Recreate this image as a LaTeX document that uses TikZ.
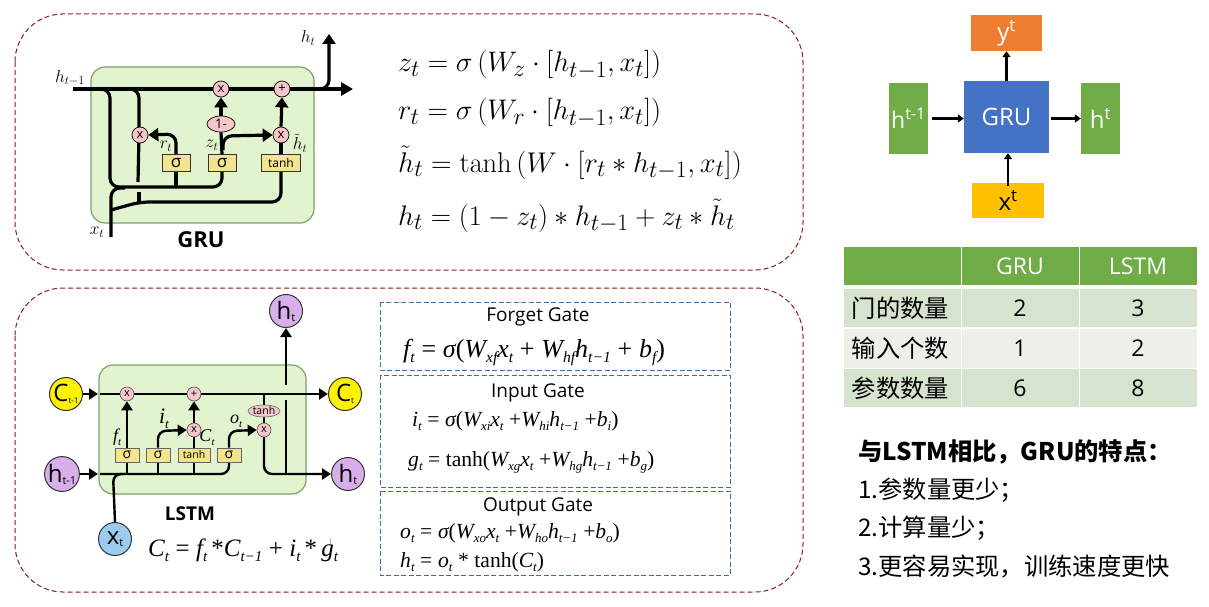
\documentclass[tikz,border=0pt]{standalone}
\usepackage[no-math]{fontspec}
\usepackage{amsmath}
\setmainfont{Open Sans}
\newfontfamily\cjk{Noto Sans CJK SC}
\newfontfamily\tms{Liberation Serif}
\usetikzlibrary{arrows.meta,calc,shapes.geometric}
\definecolor{dred}{HTML}{8E1B1F}
\definecolor{dblue}{HTML}{3F6CA8}
\definecolor{pinkc}{HTML}{F7C6CB}
\definecolor{boxy}{HTML}{F3E48F}
\definecolor{cellbg}{HTML}{E2F4CF}
\definecolor{cellln}{HTML}{7F9F6A}
\definecolor{purp}{HTML}{D8AEEB}
\definecolor{blu}{HTML}{9CCBEE}
\definecolor{ygreen}{HTML}{70AD47}
\definecolor{yorange}{HTML}{ED7D31}
\definecolor{yblue}{HTML}{4472C4}
\definecolor{yyellow}{HTML}{FFC000}
\definecolor{rowa}{HTML}{D6E3CE}
\definecolor{rowb}{HTML}{EBF0E8}
\newcommand{\fs}[1]{\fontsize{#1}{#1}\selectfont}
\newcommand{\V}[1]{{\tms\itshape #1}}
\newcommand{\U}[1]{{\tms #1}}
\newcommand{\SB}[1]{\raisebox{-0.22em}{\scalebox{.6}{\tms\itshape #1}}}
\tikzset{
 x=1pt,y=-1pt,
 panel/.style={draw=dred,line width=1pt,dash pattern=on 5pt off 3pt,rounded corners=48pt},
 gatebox/.style={draw=dblue,line width=1pt,dash pattern=on 5pt off 2.5pt},
 cell/.style={draw=cellln,line width=1.2pt,fill=cellbg,rounded corners=14pt},
 gl/.style={line width=3.2pt,rounded corners=9pt},
 ga/.style={line width=3.2pt,rounded corners=9pt,-{Triangle[length=10pt,width=13pt]}},
 ll/.style={line width=2.4pt,rounded corners=8pt},
 la/.style={line width=2.4pt,rounded corners=8pt,-{Triangle[length=9pt,width=11pt]}},
 op/.style={circle,draw=black,line width=.7pt,fill=pinkc,minimum size=16pt,inner sep=0pt,font=\fs{13}},
 ops/.style={circle,draw=black!70,line width=.6pt,fill=pinkc,minimum size=14pt,inner sep=0pt,font=\fs{11}},
 gbox/.style={draw=black!80,line width=.7pt,fill=boxy,minimum height=17pt,inner sep=0pt,font=\fs{12}},
 lbox/.style={draw=black!60,line width=.7pt,fill=boxy,minimum height=14pt,inner sep=0pt,font=\fs{10.5}},
 state/.style={circle,draw=black!80,line width=1pt,minimum size=33pt,inner sep=0pt,font=\fs{24}},
 mlabel/.style={inner sep=0pt,font=\fs{17}},
 eq/.style={anchor=base west,inner sep=0pt,font=\fs{24.88}},
 teq/.style={anchor=base west,inner sep=0pt,font=\fs{21.6}},
 gtitle/.style={inner sep=0pt,font=\fs{19}},
 solid/.style={draw=none,inner sep=0pt,text=white,font=\fs{24}},
 arr/.style={line width=2.2pt,-{Triangle[length=6pt,width=8pt]}},
 tcell/.style={minimum width=118pt,inner sep=0pt,draw=white,line width=1pt,font=\fs{23}},
 ctext/.style={anchor=base west,inner sep=0pt,font=\cjk\fs{24.3}},
}
\begin{document}
\begin{tikzpicture}
\useasboundingbox (0,0) rectangle (1209,607);
\fill[white] (0,0) rectangle (1209,607);
% panels
\draw[panel] (15,14) rectangle (803,270);
\draw[panel] (15,288) rectangle (803,592);
% GRU cell
\draw[cell] (91,67) rectangle (314,223);
\coordinate (gin) at (73,89);
\coordinate (gout) at (353,89);
\coordinate (gup) at (329,34);
\coordinate (gxin) at (111,237);
\draw[gl] (100,89) -- (110,89) -- (110,187) -- (222,187) -- (222,163);
\draw[gl] (176,187) -- (176,163);
\draw[gl] (126,89) -- (139,89) -- (139,135);
\draw[gl] (139,135) -- (138,182);
\draw[gl] (139,192) -- (139,202);
\draw[gl] (gxin) -- (111,188) -- (125,188);
\draw[gl] (111,210) -- (140,202) -- (281,202) -- (281,163);
\draw[ga] (312,89) -- (329,89) -- (gup);
\draw[line width=3.2pt,-{Triangle[length=12pt,width=13pt]}] (gin) -- (gout);
\node[op] (gx1) at (221,89) {x};
\node[op] (gp) at (282,89) {+};
\node[op] (gx2) at (140,135) {x};
\node[op] (gx3) at (281,135) {x};
\node[draw=black,line width=.7pt,fill=pinkc,ellipse,minimum width=28pt,minimum height=16pt,inner sep=0pt,font=\fs{13}] (gn) at (221,124) {1-};
\node[gbox,minimum width=28pt] (gs1) at (176,163) {\fs{17}σ};
\node[gbox,minimum width=28pt] (gs2) at (222,163) {\fs{17}σ};
\node[gbox,minimum width=39pt] (gt) at (281,163) {tanh};
\draw[gl] (gs2.north) -- (gn.south);
\draw[ga] (gn.north) -- (gx1.south);
\draw[ga] (223,150) -- (223,136) -- (gx3.west);
\draw[gl] (gt.north) -- (gx3.south);
\draw[ga] (gx3.north) -- (gp.south);
\draw[ga] (gs1.north) -- (176,134) -- (gx2.east);
\node[mlabel] at (70,78) {$h_{t-1}$};
\node[mlabel] at (308,38) {$h_t$};
\node[mlabel] at (166,146) {$r_t$};
\node[mlabel] at (212,145) {$z_t$};
\node[mlabel] at (300,143) {$\tilde h_t$};
\node[mlabel] at (97,232) {$x_t$};
\node[inner sep=0pt,font=\bfseries\fs{22}] at (201,240) {GRU};
% GRU equations
\node[eq] at (398,72) {\scalebox{1.135}{$z_t=\sigma\left(W_z\cdot[h_{t-1},x_t]\right)$}};
\node[eq] at (398,120) {\scalebox{1.14}{$r_t=\sigma\left(W_r\cdot[h_{t-1},x_t]\right)$}};
\node[eq] at (398,172) {\scalebox{1.145}{$\tilde h_t=\tanh\left(W\cdot[r_t*h_{t-1},x_t]\right)$}};
\node[eq] at (398,225) {\scalebox{1.135}{$h_t=(1-z_t)*h_{t-1}+z_t*\tilde h_t$}};
% LSTM cell
\draw[cell] (99,365) rectangle (306,494);
\node[state,fill=yellow] (cin) at (66,394) {C\raisebox{-2pt}{\fs{8}t-1}};
\node[state,fill=yellow] (cout) at (345,394) {C\raisebox{-2pt}{\fs{8}t}};
\node[state,fill=purp] (hin) at (62,474) {h\raisebox{-2pt}{\fs{11}t-1}};
\node[state,fill=purp] (hout) at (348,474) {h\raisebox{-2pt}{\fs{11}t}};
\node[state,fill=purp] (htop) at (286,311) {h\raisebox{-2pt}{\fs{11}t}};
\node[state,fill=blu] (xin) at (115,539) {x\raisebox{-2pt}{\fs{11}t}};
\draw[la] (cin.east) -- (98,394);
\draw[la] (100,394) -- (cout.west);
\draw[la] (hin.east) -- (98,474);
\draw[ll] (100,474) -- (229,474) -- (229,455);
\draw[ll] (xin.north) -- (113,474) -- (125,474);
\draw[ll] (127,474) -- (127,455);
\draw[ll] (158,474) -- (158,455);
\draw[ll] (194,474) -- (194,455);
\draw[ll] (264,394) -- (264,430);
\draw[la] (264,430) -- (264,474) -- (hout.west);
\draw[ll] (286,474) -- (286,400);
\draw[la] (286,385) -- (htop.south);
\node[ops] (lx1) at (127,394) {x};
\node[ops] (lp) at (194,394) {+};
\node[ops] (lx2) at (194,430) {x};
\node[ops] (lx3) at (264,430) {x};
\node[draw=black!60,line width=.6pt,fill=pinkc,ellipse,minimum width=32pt,minimum height=12pt,inner sep=0pt,font=\fs{10.5}] (lth) at (264,411) {tanh};
\node[lbox,minimum width=24pt] (ls1) at (127,455) {\fs{14}σ};
\node[lbox,minimum width=24pt] (ls2) at (158,455) {\fs{14}σ};
\node[lbox,minimum width=32pt] (lt) at (194,455) {tanh};
\node[lbox,minimum width=24pt] (ls3) at (229,455) {\fs{14}σ};
\draw[la] (ls1.north) -- (lx1.south);
\draw[la] (ls2.north) -- (158,431) -- (lx2.west);
\draw[ll] (lt.north) -- (lx2.south);
\draw[la] (lx2.north) -- (lp.south);
\draw[la] (ls3.north) -- (229,431) -- (lx3.west);
\node[mlabel,font=\fs{18}] at (117,437) {\V{f}\SB{t}};
\node[mlabel,font=\fs{22}] at (164,419) {\V{i}\SB{t}};
\node[mlabel,font=\fs{18}] at (207,438) {\V{C}\SB{t}};
\node[mlabel,font=\fs{18}] at (236,421) {\V{o}\SB{t}};
\node[inner sep=0pt,font=\bfseries\fs{19}] at (190,514) {LSTM};
\node[teq,font=\fs{25}] at (148,556) {\V{C}\SB{t} \U{=} \V{f}\SB{t}\,\U{*}\V{C}\SB{t−1} \U{+} \V{i}\SB{t}\,\U{*}\,\V{g}\SB{t}};
\draw[gray!60,line width=.5pt] (330,538) -- (330,544);
% gate boxes
\draw[gatebox] (380,302) rectangle (730,370);
\draw[gatebox] (380,375) rectangle (730,487);
\draw[gatebox] (380,491) rectangle (730,575);
\node[gtitle] at (538,317) {Forget Gate};
\node[gtitle] at (538,393) {Input Gate};
\node[gtitle] at (538,507) {Output Gate};
\node[teq,font=\fs{26}] at (403,357) {\V{f}\SB{t} \U{=} \V{σ}\U{(}\V{W}\SB{xf}\V{x}\SB{t} \U{+} \V{W}\SB{hf}\V{h}\SB{t−1} \U{+} \V{b}\SB{f}\U{)}};
\node[teq] at (412,426) {\V{i}\SB{t} \U{=} \V{σ}\U{(}\V{W}\SB{xi}\V{x}\SB{t} \U{+}\V{W}\SB{hi}\V{h}\SB{t−1} \U{+}\V{b}\SB{i}\U{)}};
\node[teq] at (408,466) {\V{g}\SB{t} \U{= tanh(}\V{W}\SB{xg}\V{x}\SB{t} \U{+}\V{W}\SB{hg}\V{h}\SB{t−1} \U{+}\V{b}\SB{g}\U{)}};
\node[teq] at (400,538) {\V{o}\SB{t} \U{=} \V{σ}\U{(}\V{W}\SB{xo}\V{x}\SB{t} \U{+}\V{W}\SB{ho}\V{h}\SB{t−1} \U{+}\V{b}\SB{o}\U{)}};
\node[teq] at (400,567) {\V{h}\SB{t} \U{=} \V{o}\SB{t} \U{*} \U{tanh(}\V{C}\SB{t}\U{)}};
% small GRU diagram
\node[solid,fill=yorange,minimum width=71pt,minimum height=36pt] (yy) at (1006.5,33) {y\textsuperscript{t}};
\node[solid,fill=yblue,minimum width=85pt,minimum height=72pt] (gg) at (1006.5,117) {GRU};
\node[solid,fill=ygreen,minimum width=39pt,minimum height=71pt,font=\fs{23}] (hp) at (908.5,118.5) {h\textsuperscript{t-1}};
\node[solid,fill=ygreen,minimum width=39pt,minimum height=71pt] (hn) at (1100.5,118.5) {h\textsuperscript{t}};
\node[solid,fill=yyellow,text=black,minimum width=72pt,minimum height=35pt] (xx) at (1008,200.5) {x\textsuperscript{t}};
\draw[arr] ([xshift=4pt]hp.east) -- (hp.east -| gg.west);
\draw[arr] ([xshift=2pt]gg.east |- hn.west) -- (hn.west);
\draw[arr] (gg.north) -- (yy.south);
\draw[arr] ([yshift=-3pt]xx.north) -- (xx.north |- gg.south);
% table
\tikzset{hr/.style={tcell,minimum height=39pt,fill=ygreen,text=white},ra/.style={tcell,minimum height=39pt,fill=rowa},rb/.style={tcell,minimum height=40pt,fill=rowb}}
\node[hr] (a0) at (902,266) {};
\node[hr] (b0) at (1020,266) {GRU};
\node[hr] (c0) at (1138,266) {LSTM};
\node[ra] (a1) at (902,308) {\cjk\fs{24.3}\hspace{-3pt}门的数量};
\node[ra] (b1) at (1020,308) {2};
\node[ra] (c1) at (1138,308) {3};
\node[rb] (a2) at (902,348) {\cjk\fs{24.3}\hspace{-3pt}输入个数};
\node[rb] (b2) at (1020,348) {1};
\node[rb] (c2) at (1138,348) {2};
\node[ra] (a3) at (902,388) {\cjk\fs{24.3}\hspace{-3pt}参数数量};
\node[ra] (b3) at (1020,388) {6};
\node[ra] (c3) at (1138,388) {8};
% notes
\node[ctext,font=\cjk\bfseries\fs{24.3}] at (858,460) {与LSTM相比，GRU的特点：};
\node[ctext] at (858,498) {1.参数量更少；};
\node[ctext] at (858,536) {2.计算量少；};
\node[ctext] at (858,575) {3.更容易实现，训练速度更快};
\end{tikzpicture}
\end{document}
